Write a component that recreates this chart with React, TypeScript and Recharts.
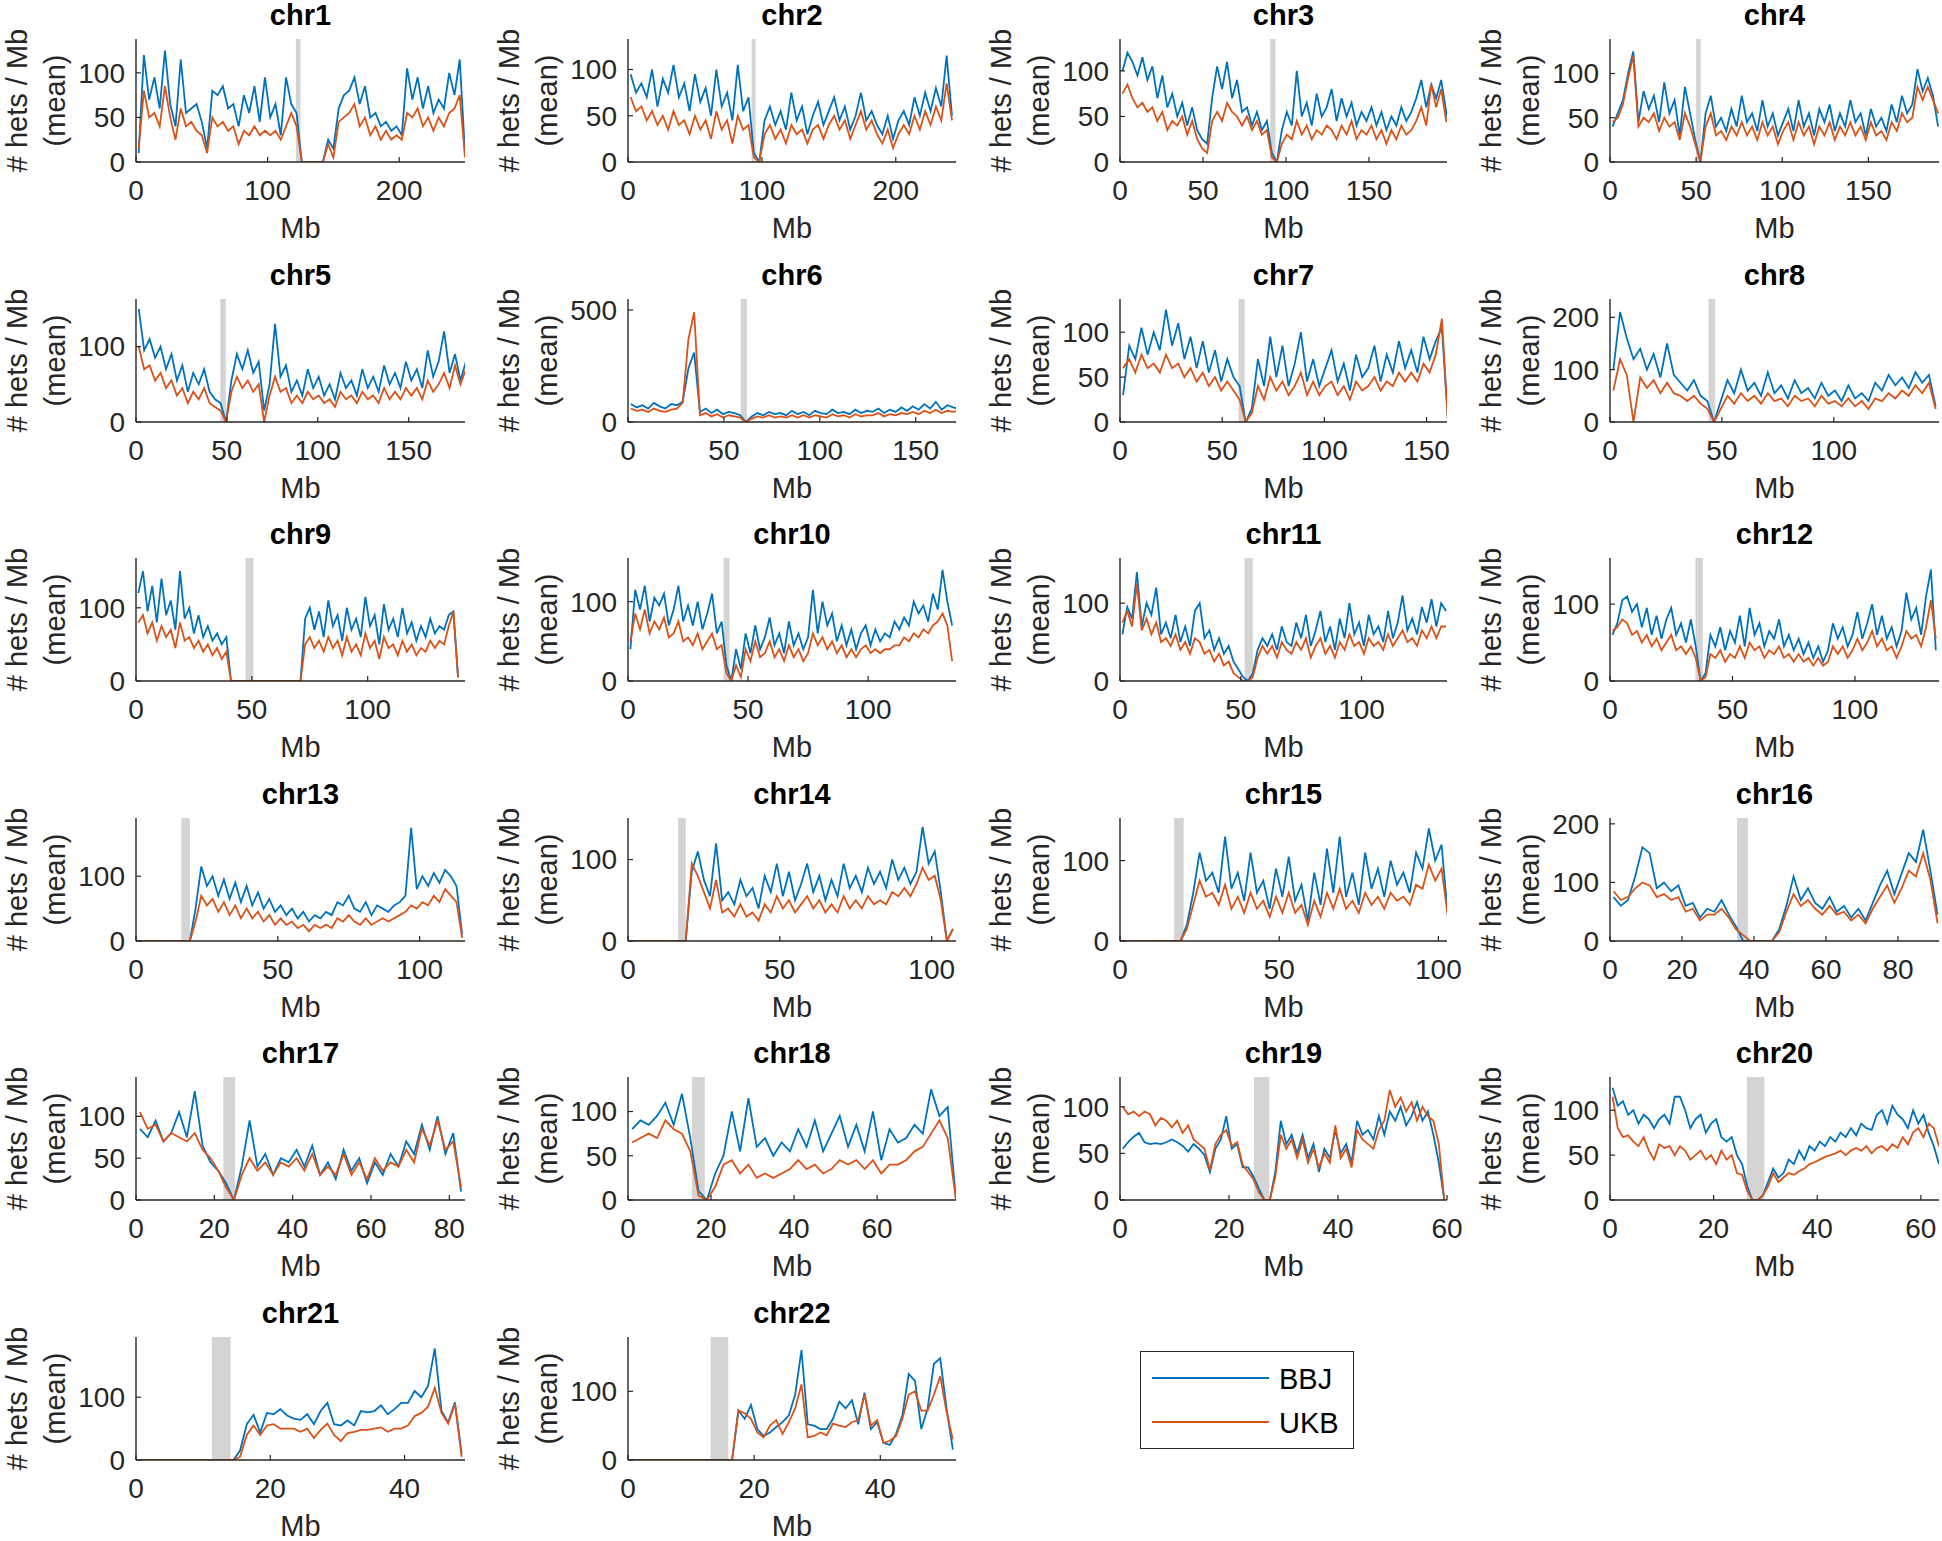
import React from 'react';
import { LineChart, Line, XAxis, YAxis, ReferenceArea } from 'recharts';

// chromosome panels, bin size in Mb, x extent, y extent
const chromNames = ['chr1', 'chr2', 'chr3', 'chr4', 'chr5', 'chr6', 'chr7', 'chr8', 'chr9', 'chr10', 'chr11',
  'chr12', 'chr13', 'chr14', 'chr15', 'chr16', 'chr17', 'chr18', 'chr19', 'chr20', 'chr21', 'chr22'];
const binSizes = [4, 4, 3, 3, 3, 3, 3, 3, 2, 2, 2, 2, 2, 2, 2, 2, 2, 2, 1, 1, 1, 1];
const chromLengths = [250, 245, 197, 191, 181, 171, 160, 147, 142, 136.6, 135.4, 134.3, 116, 108, 102.7, 91.4, 84, 79, 60, 63.5, 49, 52];
const yLimits = [138, 133, 135, 139, 163, 549, 137, 235, 168, 155, 158, 160, 190, 151, 153, 210, 147, 139, 132, 137, 196, 179];
const centromeres: [number, number][] = [
  [121.5, 125], [92.3, 95.3], [90.5, 93.7], [50, 52.7], [46.4, 49.4], [58.8, 62], [58, 61], [44, 47],
  [47.3, 50.7], [39.8, 42.3], [51.6, 55], [34.9, 37.9], [16, 19], [16.5, 19], [17, 20], [35.3, 38.3],
  [22.3, 25.3], [15.4, 18.5], [24.6, 27.4], [26.4, 29.8], [11.3, 14.1], [13.1, 15.9],
];
const xTicks = [
  [0, 100, 200], [0, 100, 200], [0, 50, 100, 150], [0, 50, 100, 150], [0, 50, 100, 150], [0, 50, 100, 150],
  [0, 50, 100, 150], [0, 50, 100], [0, 50, 100], [0, 50, 100], [0, 50, 100], [0, 50, 100], [0, 50, 100],
  [0, 50, 100], [0, 50, 100], [0, 20, 40, 60, 80], [0, 20, 40, 60, 80], [0, 20, 40, 60], [0, 20, 40, 60],
  [0, 20, 40, 60], [0, 20, 40], [0, 20, 40],
];
const yTicks = [
  [0, 50, 100], [0, 50, 100], [0, 50, 100], [0, 50, 100], [0, 100], [0, 500], [0, 50, 100], [0, 100, 200],
  [0, 100], [0, 100], [0, 100], [0, 100], [0, 100], [0, 100], [0, 100], [0, 100, 200],
  [0, 50, 100], [0, 50, 100], [0, 50, 100], [0, 50, 100], [0, 100], [0, 100],
];

// mean hets per Mb, one value per bin
const bbjChr1 = [10, 120, 70, 95, 60, 125, 65, 40, 115, 55, 60, 65, 45, 15, 80, 75, 85, 60, 65, 40, 75, 55, 85, 45, 95, 50, 65, 30, 95, 65, 55, 0, 0, 0, 0, 0, 25, 15, 60, 75, 80, 95, 65, 85, 50, 55, 40, 45, 35, 40, 30, 105, 70, 95, 60, 85, 55, 70, 60, 100, 75, 115, 10];
const ukbChr1 = [15, 80, 50, 55, 40, 85, 50, 25, 60, 40, 45, 35, 30, 10, 50, 40, 45, 35, 40, 20, 35, 30, 40, 30, 35, 30, 35, 25, 40, 55, 40, 0, 0, 0, 0, 0, 20, 5, 45, 50, 55, 65, 40, 50, 30, 40, 25, 35, 25, 30, 25, 55, 50, 60, 40, 50, 35, 50, 40, 55, 60, 75, 5];
const bbjChr2 = [95, 75, 85, 70, 100, 60, 90, 75, 105, 70, 85, 55, 95, 65, 80, 50, 100, 60, 75, 45, 105, 55, 70, 10, 0, 45, 60, 40, 55, 35, 75, 45, 60, 30, 50, 65, 40, 55, 70, 45, 60, 35, 50, 75, 45, 55, 40, 30, 50, 25, 45, 55, 40, 70, 50, 75, 55, 80, 60, 115, 50];
const ukbChr2 = [70, 55, 60, 45, 55, 40, 50, 35, 55, 40, 45, 30, 50, 35, 45, 25, 55, 35, 45, 20, 50, 35, 40, 5, 0, 30, 40, 25, 35, 20, 40, 30, 35, 20, 35, 40, 25, 40, 50, 35, 45, 25, 40, 55, 35, 45, 30, 20, 35, 15, 30, 40, 30, 50, 35, 55, 40, 60, 45, 85, 45];
const bbjChr3 = [100, 120, 110, 95, 115, 90, 105, 70, 95, 60, 75, 50, 65, 40, 60, 35, 25, 20, 70, 105, 80, 110, 70, 90, 55, 60, 40, 55, 35, 45, 10, 0, 35, 55, 40, 100, 50, 65, 40, 75, 50, 60, 80, 45, 70, 50, 65, 40, 55, 45, 60, 40, 55, 35, 50, 40, 60, 45, 55, 70, 90, 60, 85, 70, 90, 55, 30];
const ukbChr3 = [75, 85, 70, 60, 65, 55, 60, 45, 55, 35, 45, 40, 50, 30, 45, 25, 15, 10, 45, 55, 45, 65, 55, 50, 40, 50, 35, 45, 30, 35, 5, 0, 20, 30, 25, 45, 30, 40, 25, 35, 30, 40, 35, 25, 40, 30, 45, 25, 35, 30, 40, 25, 35, 20, 35, 25, 40, 30, 35, 45, 60, 40, 85, 60, 80, 45, 40];
const bbjChr4 = [40, 55, 70, 100, 125, 45, 80, 60, 75, 45, 90, 55, 70, 30, 85, 55, 25, 0, 55, 75, 40, 50, 35, 60, 40, 75, 45, 55, 35, 70, 40, 55, 30, 45, 60, 35, 70, 40, 55, 30, 60, 45, 65, 35, 55, 40, 70, 45, 55, 30, 60, 40, 50, 35, 65, 45, 75, 55, 65, 105, 80, 95, 75, 40];
const ukbChr4 = [45, 50, 65, 95, 120, 40, 50, 45, 55, 35, 50, 40, 45, 25, 55, 40, 20, 0, 40, 55, 30, 35, 25, 40, 30, 45, 30, 40, 25, 45, 30, 40, 20, 35, 45, 25, 45, 30, 40, 20, 40, 30, 45, 25, 40, 30, 45, 30, 40, 25, 45, 30, 35, 25, 45, 35, 55, 45, 50, 85, 70, 85, 70, 55];
const bbjChr5 = [150, 95, 110, 85, 100, 70, 90, 55, 75, 40, 65, 50, 70, 40, 30, 25, 0, 55, 90, 70, 95, 65, 80, 15, 50, 130, 60, 75, 40, 55, 35, 70, 45, 60, 35, 50, 30, 65, 45, 55, 35, 70, 45, 60, 40, 75, 50, 65, 45, 80, 55, 70, 45, 95, 60, 80, 120, 65, 90, 55, 80];
const ukbChr5 = [100, 70, 75, 55, 65, 45, 55, 35, 45, 25, 40, 30, 45, 25, 20, 15, 0, 40, 60, 45, 55, 40, 50, 0, 35, 60, 40, 45, 25, 35, 25, 40, 30, 35, 25, 30, 20, 40, 30, 35, 25, 40, 30, 35, 25, 45, 30, 40, 30, 45, 35, 45, 30, 55, 40, 50, 65, 45, 75, 50, 70];
const bbjChr6 = [80, 65, 75, 60, 85, 70, 60, 80, 75, 90, 240, 310, 45, 60, 40, 55, 35, 45, 40, 30, 0, 25, 40, 30, 45, 35, 40, 30, 50, 35, 45, 30, 50, 40, 35, 55, 40, 45, 35, 55, 40, 50, 45, 60, 40, 55, 45, 65, 50, 70, 55, 80, 60, 90, 55, 75, 65, 60];
const ukbChr6 = [60, 50, 55, 45, 60, 50, 45, 55, 60, 85, 370, 490, 30, 40, 25, 35, 20, 30, 25, 20, 0, 15, 25, 20, 30, 20, 25, 20, 30, 20, 30, 20, 30, 25, 20, 35, 25, 30, 20, 35, 25, 30, 30, 40, 25, 35, 30, 40, 35, 45, 35, 50, 40, 55, 40, 50, 45, 50];
const bbjChr7 = [30, 85, 70, 105, 75, 100, 80, 125, 85, 110, 70, 95, 60, 90, 55, 80, 45, 70, 50, 40, 0, 15, 70, 40, 95, 50, 85, 40, 65, 100, 45, 70, 40, 60, 80, 45, 65, 35, 75, 50, 60, 85, 45, 75, 55, 90, 60, 80, 55, 95, 70, 90, 105, 0];
const ukbChr7 = [60, 70, 55, 75, 60, 65, 55, 75, 60, 65, 50, 60, 45, 55, 40, 50, 35, 45, 35, 25, 0, 10, 40, 25, 50, 35, 45, 30, 40, 55, 30, 45, 30, 40, 45, 30, 40, 25, 45, 35, 40, 50, 35, 45, 40, 55, 45, 55, 45, 65, 55, 75, 115, 0];
const bbjChr8 = [100, 210, 160, 120, 140, 100, 130, 85, 150, 90, 75, 60, 80, 50, 40, 0, 40, 80, 55, 100, 60, 75, 50, 95, 55, 70, 45, 80, 55, 65, 45, 75, 50, 60, 40, 70, 45, 55, 40, 75, 60, 90, 70, 85, 65, 95, 75, 90, 30];
const ukbChr8 = [60, 120, 90, 0, 85, 65, 80, 55, 75, 55, 50, 40, 50, 35, 25, 0, 25, 50, 35, 55, 40, 50, 35, 55, 40, 45, 30, 50, 40, 45, 30, 50, 35, 40, 30, 45, 30, 40, 25, 45, 40, 55, 45, 60, 50, 70, 55, 75, 25];
const bbjChr9 = [120, 150, 95, 130, 80, 140, 90, 110, 70, 150, 85, 100, 65, 90, 60, 75, 55, 65, 50, 60, 0, 0, 0, 0, 0, 0, 0, 0, 0, 0, 0, 0, 0, 0, 0, 0, 85, 100, 70, 95, 60, 110, 75, 90, 55, 100, 70, 85, 60, 115, 75, 90, 50, 105, 70, 85, 60, 100, 65, 80, 55, 75, 60, 85, 65, 75, 70, 90, 95, 5];
const ukbChr9 = [80, 90, 65, 80, 55, 75, 60, 70, 45, 80, 55, 60, 45, 55, 40, 50, 35, 45, 30, 40, 0, 0, 0, 0, 0, 0, 0, 0, 0, 0, 0, 0, 0, 0, 0, 0, 50, 60, 45, 55, 40, 60, 45, 55, 35, 60, 40, 50, 35, 65, 45, 55, 30, 60, 45, 50, 35, 55, 40, 50, 35, 45, 40, 55, 45, 55, 50, 75, 95, 5];
const bbjChr10 = [40, 115, 90, 120, 75, 105, 95, 110, 70, 90, 120, 75, 95, 70, 100, 65, 85, 110, 60, 75, 20, 0, 40, 15, 60, 35, 70, 40, 55, 80, 45, 60, 35, 75, 45, 60, 40, 55, 115, 60, 100, 70, 85, 50, 70, 45, 65, 40, 60, 70, 45, 65, 50, 60, 55, 75, 65, 80, 70, 100, 85, 95, 75, 110, 90, 140, 100, 70];
const ukbChr10 = [50, 85, 65, 90, 60, 75, 65, 80, 55, 60, 75, 50, 55, 45, 60, 40, 50, 60, 40, 45, 10, 0, 20, 5, 40, 25, 50, 30, 35, 50, 30, 40, 25, 45, 30, 40, 25, 35, 60, 45, 55, 40, 50, 35, 45, 30, 40, 30, 40, 45, 35, 40, 35, 40, 40, 45, 45, 55, 50, 60, 55, 65, 60, 70, 75, 85, 70, 25];
const bbjChr11 = [60, 95, 80, 140, 70, 100, 85, 120, 60, 75, 55, 85, 50, 70, 45, 90, 100, 55, 65, 40, 55, 35, 45, 25, 15, 5, 0, 10, 40, 55, 45, 60, 40, 70, 50, 45, 75, 55, 85, 45, 65, 90, 50, 70, 40, 80, 55, 100, 60, 75, 45, 85, 60, 70, 50, 90, 55, 75, 110, 65, 80, 60, 95, 75, 105, 70, 100, 90];
const ukbChr11 = [75, 90, 70, 125, 65, 80, 60, 75, 50, 55, 45, 60, 40, 50, 35, 55, 50, 35, 40, 25, 35, 20, 25, 10, 5, 0, 0, 5, 30, 45, 35, 45, 30, 50, 40, 35, 50, 40, 55, 30, 45, 55, 35, 45, 30, 50, 40, 60, 45, 50, 35, 55, 45, 50, 40, 60, 45, 55, 65, 50, 55, 45, 65, 55, 70, 55, 70, 70];
const bbjChr12 = [60, 75, 105, 110, 90, 100, 70, 95, 60, 85, 55, 80, 95, 60, 75, 50, 80, 45, 0, 10, 60, 45, 70, 40, 65, 50, 85, 45, 95, 60, 75, 45, 65, 55, 80, 45, 60, 40, 55, 35, 50, 30, 45, 25, 40, 75, 55, 70, 45, 60, 90, 55, 75, 100, 60, 85, 55, 70, 45, 65, 115, 80, 95, 60, 110, 145, 40];
const ukbChr12 = [65, 70, 80, 75, 60, 65, 50, 60, 45, 55, 40, 50, 60, 40, 45, 35, 45, 30, 0, 5, 35, 30, 40, 25, 35, 30, 45, 30, 50, 40, 45, 30, 40, 35, 45, 30, 35, 25, 35, 25, 30, 20, 30, 20, 25, 45, 35, 45, 30, 40, 55, 40, 50, 65, 45, 55, 40, 45, 30, 45, 65, 55, 60, 45, 70, 105, 55];
const bbjChr13 = [0, 0, 0, 0, 0, 0, 0, 0, 0, 0, 50, 115, 85, 100, 70, 95, 65, 90, 60, 85, 55, 75, 50, 65, 45, 55, 40, 50, 35, 45, 30, 40, 35, 45, 40, 60, 55, 70, 50, 45, 60, 40, 55, 50, 45, 55, 60, 70, 175, 80, 100, 85, 105, 90, 110, 100, 85, 10];
const ukbChr13 = [0, 0, 0, 0, 0, 0, 0, 0, 0, 0, 30, 70, 55, 65, 45, 60, 40, 55, 35, 50, 35, 45, 30, 40, 25, 35, 25, 30, 20, 25, 15, 25, 20, 25, 20, 35, 30, 40, 30, 25, 35, 25, 30, 35, 30, 35, 40, 45, 55, 50, 60, 55, 70, 60, 80, 70, 60, 5];
const bbjChr14 = [0, 0, 0, 0, 0, 0, 0, 0, 0, 0, 85, 110, 75, 55, 120, 50, 60, 45, 75, 55, 65, 40, 80, 60, 95, 55, 85, 50, 70, 95, 60, 80, 50, 75, 55, 95, 65, 80, 60, 90, 70, 85, 65, 100, 75, 90, 70, 85, 140, 95, 110, 60, 0, 15];
const ukbChr14 = [0, 0, 0, 0, 0, 0, 0, 0, 0, 0, 95, 80, 60, 40, 75, 35, 40, 30, 45, 30, 35, 25, 45, 35, 55, 40, 50, 35, 45, 55, 40, 50, 35, 45, 35, 55, 40, 50, 40, 55, 45, 50, 45, 60, 55, 65, 55, 70, 90, 75, 80, 50, 0, 15];
const bbjChr15 = [0, 0, 0, 0, 0, 0, 0, 0, 0, 0, 20, 60, 110, 75, 85, 60, 130, 65, 85, 50, 110, 60, 75, 40, 90, 55, 105, 50, 70, 25, 85, 45, 115, 60, 130, 55, 85, 45, 110, 65, 90, 55, 100, 70, 85, 60, 110, 90, 140, 100, 120, 30];
const ukbChr15 = [0, 0, 0, 0, 0, 0, 0, 0, 0, 0, 15, 45, 75, 55, 60, 45, 70, 40, 55, 35, 60, 40, 50, 30, 55, 35, 60, 35, 45, 20, 50, 30, 60, 40, 65, 40, 50, 35, 60, 45, 55, 40, 60, 50, 55, 45, 70, 65, 95, 75, 90, 30];
const bbjChr16 = [75, 60, 70, 110, 160, 150, 90, 100, 85, 95, 60, 65, 40, 55, 50, 70, 45, 25, 0, 0, 0, 0, 0, 20, 60, 110, 70, 90, 65, 55, 75, 50, 60, 40, 55, 35, 65, 95, 120, 80, 115, 150, 135, 190, 120, 45];
const ukbChr16 = [85, 70, 75, 90, 100, 95, 75, 80, 70, 75, 50, 55, 35, 45, 45, 55, 40, 20, 10, 0, 0, 0, 0, 15, 50, 80, 60, 70, 55, 45, 60, 45, 50, 35, 45, 30, 55, 75, 95, 65, 90, 120, 110, 150, 105, 30];
const bbjChr17 = [85, 75, 95, 70, 80, 105, 75, 130, 65, 45, 35, 20, 0, 40, 95, 40, 55, 30, 50, 45, 60, 40, 65, 30, 45, 25, 60, 35, 50, 20, 45, 30, 55, 40, 70, 55, 90, 60, 100, 55, 80, 10];
const ukbChr17 = [105, 85, 90, 70, 80, 75, 70, 80, 60, 50, 35, 15, 0, 30, 50, 35, 45, 30, 45, 40, 50, 35, 55, 30, 40, 30, 55, 30, 45, 25, 50, 35, 45, 40, 60, 45, 85, 65, 95, 60, 70, 15];
const bbjChr18 = [80, 90, 85, 95, 110, 85, 120, 70, 10, 0, 30, 50, 100, 55, 115, 60, 70, 50, 65, 55, 80, 60, 90, 55, 75, 95, 60, 85, 55, 100, 45, 80, 65, 70, 85, 75, 125, 95, 105, 0];
const ukbChr18 = [65, 70, 75, 70, 90, 80, 75, 55, 5, 0, 15, 40, 45, 30, 40, 25, 30, 25, 30, 35, 45, 35, 40, 30, 35, 45, 40, 45, 35, 45, 30, 40, 40, 45, 55, 60, 75, 90, 70, 0];
const bbjChr19 = [55, 62, 68, 72, 62, 60, 61, 60, 62, 65, 62, 58, 52, 60, 55, 48, 30, 55, 65, 90, 55, 60, 35, 35, 25, 12, 0, 0, 30, 85, 60, 70, 50, 70, 45, 60, 30, 55, 45, 75, 50, 60, 40, 85, 70, 75, 65, 90, 70, 95, 85, 100, 80, 90, 105, 85, 95, 70, 40, 0];
const ukbChr19 = [100, 92, 95, 90, 95, 92, 80, 88, 85, 78, 85, 72, 80, 65, 60, 55, 32, 60, 70, 75, 58, 62, 38, 30, 22, 8, 0, 0, 25, 70, 55, 65, 45, 65, 40, 55, 35, 50, 40, 80, 45, 55, 35, 75, 65, 60, 55, 75, 85, 118, 100, 110, 95, 105, 85, 100, 90, 85, 60, 0];
const bbjChr20 = [125, 105, 110, 95, 100, 85, 95, 90, 80, 90, 95, 85, 115, 115, 100, 80, 90, 95, 75, 85, 90, 70, 65, 70, 50, 40, 15, 0, 0, 5, 20, 35, 25, 30, 45, 40, 55, 45, 60, 55, 65, 60, 70, 65, 75, 70, 80, 72, 85, 80, 78, 95, 100, 85, 105, 95, 90, 80, 100, 85, 95, 75, 60, 40];
const ukbChr20 = [115, 80, 70, 72, 65, 60, 70, 55, 45, 62, 58, 60, 50, 60, 55, 45, 50, 55, 45, 50, 40, 55, 45, 50, 30, 28, 10, 0, 0, 5, 15, 30, 20, 25, 30, 28, 32, 35, 40, 42, 45, 48, 50, 52, 55, 50, 55, 58, 55, 60, 52, 58, 60, 55, 62, 58, 70, 62, 75, 80, 70, 85, 80, 60];
const bbjChr21 = [0, 0, 0, 0, 0, 0, 0, 0, 0, 0, 0, 0, 0, 0, 0, 15, 57, 72, 44, 75, 73, 81, 71, 66, 64, 73, 57, 78, 91, 57, 55, 63, 55, 78, 76, 78, 87, 73, 81, 91, 91, 110, 100, 118, 178, 78, 60, 92, 10];
const ukbChr21 = [0, 0, 0, 0, 0, 0, 0, 0, 0, 0, 0, 0, 0, 0, 0, 5, 40, 55, 40, 55, 57, 50, 50, 50, 45, 50, 35, 48, 58, 40, 30, 43, 45, 48, 48, 50, 52, 45, 50, 50, 55, 70, 75, 85, 115, 75, 58, 90, 5];
const bbjChr22 = [0, 0, 0, 0, 0, 0, 0, 0, 0, 0, 0, 0, 0, 0, 0, 0, 0, 72, 60, 80, 45, 35, 40, 48, 55, 65, 95, 160, 52, 50, 45, 45, 60, 85, 75, 87, 52, 98, 45, 55, 25, 22, 38, 65, 125, 115, 45, 75, 140, 148, 75, 15];
const ukbChr22 = [0, 0, 0, 0, 0, 0, 0, 0, 0, 0, 0, 0, 0, 0, 0, 0, 0, 72, 68, 60, 40, 33, 50, 58, 38, 55, 75, 110, 33, 35, 40, 36, 53, 50, 48, 55, 58, 95, 50, 58, 25, 28, 35, 60, 95, 100, 72, 72, 95, 122, 70, 30];

const bbjSeries = [bbjChr1, bbjChr2, bbjChr3, bbjChr4, bbjChr5, bbjChr6, bbjChr7, bbjChr8, bbjChr9, bbjChr10, bbjChr11,
  bbjChr12, bbjChr13, bbjChr14, bbjChr15, bbjChr16, bbjChr17, bbjChr18, bbjChr19, bbjChr20, bbjChr21, bbjChr22];
const ukbSeries = [ukbChr1, ukbChr2, ukbChr3, ukbChr4, ukbChr5, ukbChr6, ukbChr7, ukbChr8, ukbChr9, ukbChr10, ukbChr11,
  ukbChr12, ukbChr13, ukbChr14, ukbChr15, ukbChr16, ukbChr17, ukbChr18, ukbChr19, ukbChr20, ukbChr21, ukbChr22];

const BBJ_COLOR = '#0072BD';
const UKB_COLOR = '#D95319';
const AXIS_COLOR = '#262626';

const colLeft = [0, 492, 984, 1474];
const plotWidths = [329, 328, 327, 329];
const rowTop = [0, 260, 519, 779, 1038, 1298];
const Y_AXIS_W = 136;
const TOP_M = 39;
const X_AXIS_H = 98;
const CHART_H = 260;
const RIGHT_M = 16;

function PanelText({ title, plotW }: { title: string; plotW: number }) {
  const cx = Y_AXIS_W + plotW / 2;
  return (
    <g>
      <text x={cx} y={25} textAnchor="middle" fontSize={29} fontWeight="bold" fill="#000">{title}</text>
      <text x={cx} y={238} textAnchor="middle" fontSize={29} fill={AXIS_COLOR}>Mb</text>
    </g>
  );
}

function YTitle() {
  const cy = TOP_M + (CHART_H - TOP_M - X_AXIS_H) / 2;
  return (
    <g>
      <text x={27} y={cy} transform={`rotate(-90 27 ${cy})`} textAnchor="middle" fontSize={29} fill={AXIS_COLOR}># hets / Mb</text>
      <text x={65} y={cy} transform={`rotate(-90 65 ${cy})`} textAnchor="middle" fontSize={29} fill={AXIS_COLOR}>(mean)</text>
    </g>
  );
}

function Panel({ idx }: { idx: number }) {
  const col = idx % 4;
  const row = Math.floor(idx / 4);
  const plotW = plotWidths[col];
  const step = binSizes[idx];
  const data = bbjSeries[idx].map((v, k) => ({ mb: (k + 0.5) * step, bbj: v, ukb: ukbSeries[idx][k] }));
  const [c1, c2] = centromeres[idx];

  return (
    <div style={{ position: 'absolute', left: colLeft[col], top: rowTop[row] }}>
      <LineChart width={Y_AXIS_W + plotW + RIGHT_M} height={CHART_H} data={data} margin={{ top: TOP_M, right: RIGHT_M, bottom: 0, left: 0 }}>
        <ReferenceArea x1={c1} x2={c2} y1={0} y2={yLimits[idx]} fill="#d4d4d4" fillOpacity={1} stroke="none" />
        <XAxis
          type="number"
          dataKey="mb"
          domain={[0, chromLengths[idx]]}
          ticks={xTicks[idx]}
          interval={0}
          allowDataOverflow
          height={X_AXIS_H}
          tickSize={-5}
          tickMargin={23}
          axisLine={{ stroke: AXIS_COLOR, strokeWidth: 1.4 }}
          tickLine={{ stroke: AXIS_COLOR, strokeWidth: 1.2 }}
          tick={{ fill: AXIS_COLOR, fontSize: 28 }}
          label={<PanelText title={chromNames[idx]} plotW={plotW} />}
        />
        <YAxis
          type="number"
          domain={[0, yLimits[idx]]}
          ticks={yTicks[idx]}
          interval={0}
          allowDataOverflow
          width={Y_AXIS_W}
          tickSize={-5}
          tickMargin={16}
          axisLine={{ stroke: AXIS_COLOR, strokeWidth: 1.4 }}
          tickLine={{ stroke: AXIS_COLOR, strokeWidth: 1.2 }}
          tick={{ fill: AXIS_COLOR, fontSize: 28 }}
          label={<YTitle />}
        />
        <Line type="linear" dataKey="bbj" name="BBJ" stroke={BBJ_COLOR} strokeWidth={1.8} dot={false} isAnimationActive={false} />
        <Line type="linear" dataKey="ukb" name="UKB" stroke={UKB_COLOR} strokeWidth={1.8} dot={false} isAnimationActive={false} />
      </LineChart>
    </div>
  );
}

function LegendBox() {
  return (
    <div style={{ position: 'absolute', left: 1140, top: 1351, width: 212, height: 96, border: `1.5px solid ${AXIS_COLOR}`, background: '#fff' }}>
      <svg width={212} height={96}>
        <line x1={11} x2={128} y1={26} y2={26} stroke={BBJ_COLOR} strokeWidth={1.8} />
        <text x={138} y={37} fontSize={29} fill="#000">BBJ</text>
        <line x1={11} x2={128} y1={70} y2={70} stroke={UKB_COLOR} strokeWidth={1.8} />
        <text x={138} y={81} fontSize={29} fill="#000">UKB</text>
      </svg>
    </div>
  );
}

export default function App() {
  return (
    <div style={{ position: 'absolute', left: 0, top: 0, width: 1942, height: 1541, overflow: 'hidden', background: '#fff', fontFamily: '"Liberation Sans", Arial, Helvetica, sans-serif' }}>
      {chromNames.map((name, i) => (
        <Panel key={name} idx={i} />
      ))}
      <LegendBox />
    </div>
  );
}
